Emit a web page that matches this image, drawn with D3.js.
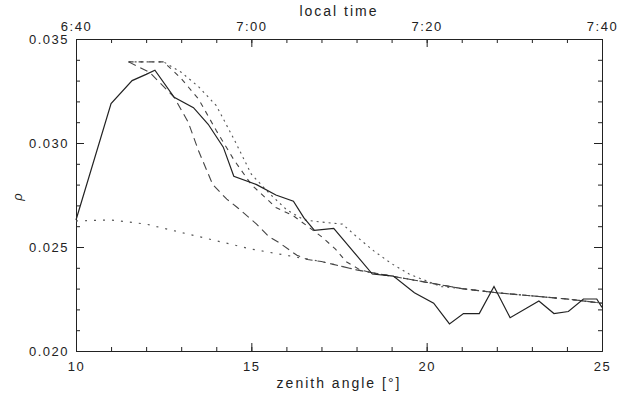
<!DOCTYPE html>
<html>
<head>
<meta charset="utf-8">
<script src="https://cdn.jsdelivr.net/npm/d3@7"></script>
<style>
  body { margin: 0; background: #fff; }
  text { font-family: "Liberation Sans", "DejaVu Sans", sans-serif; fill: #222; }
</style>
</head>
<body>
<div id="chart"></div>
<script>
// zenith angle [deg] / rho readings
var measZen = [10, 11.0, 11.6, 12.0, 12.25, 12.8, 13.35, 13.77, 14.2, 14.5, 15.15, 15.7, 16.2, 16.5, 16.8, 17.35, 18.45, 19.05, 19.65, 20.2, 20.65, 21.05, 21.5, 21.92, 22.38, 23.2, 23.63, 24.04, 24.47, 24.85, 25];
var measRho = [0.0263, 0.0319, 0.0330, 0.0333, 0.0335, 0.0322, 0.0317, 0.0309, 0.0298, 0.0284, 0.0280, 0.0275, 0.0272, 0.0264, 0.0258, 0.0259, 0.0237, 0.0236, 0.0228, 0.0223, 0.0213, 0.0218, 0.0218, 0.0231, 0.0216, 0.0224, 0.0218, 0.0219, 0.0225, 0.0225, 0.0221];

var baseZen = [10, 11, 12, 13, 14, 15, 16, 17, 18, 19, 20, 21, 22, 23, 24, 25];
var baseRho = [0.02625, 0.0263, 0.0261, 0.0257, 0.0253, 0.0249, 0.0246, 0.0243, 0.0239, 0.0236, 0.0233, 0.0230, 0.0228, 0.02265, 0.0225, 0.0223];

var fastZen = [11.5, 12.1, 12.8, 13.2, 13.5, 13.9, 14.3, 14.6, 15.15, 15.5, 15.8, 16.3, 16.6, 17, 18, 19, 20, 21, 22, 23, 24, 25];
var fastRho = [0.0339, 0.0334, 0.0322, 0.0310, 0.0296, 0.0280, 0.0273, 0.0269, 0.0261, 0.0255, 0.0252, 0.0246, 0.0244, 0.0243, 0.0239, 0.0236, 0.0233, 0.0230, 0.0228, 0.02265, 0.0225, 0.0223];

var midZen = [11.5, 12.5, 13.0, 13.5, 14.0, 14.5, 15.0, 15.7, 16.2, 16.6, 17.0, 17.4, 17.7, 18.1, 18.6, 19, 20, 21, 22, 23, 24, 25];
var midRho = [0.0339, 0.0339, 0.0331, 0.0321, 0.0306, 0.0292, 0.0280, 0.0269, 0.0265, 0.0260, 0.0255, 0.0249, 0.0243, 0.0239, 0.0237, 0.0236, 0.0233, 0.0230, 0.0228, 0.02265, 0.0225, 0.0223];

var slowZen = [11.5, 12.5, 13.0, 13.5, 14.0, 14.5, 15.0, 15.5, 16.0, 16.5, 17.0, 17.6, 18.0, 18.5, 19.0, 19.5, 20.4, 21, 22, 23, 24, 25];
var slowRho = [0.0339, 0.0339, 0.0334, 0.0327, 0.0318, 0.0302, 0.0285, 0.0276, 0.0268, 0.0263, 0.0262, 0.0261, 0.0255, 0.0248, 0.0242, 0.0237, 0.0231, 0.0230, 0.0228, 0.02265, 0.0225, 0.0223];

var zenTicks = [10, 15, 20, 25];
var rhoTicks = [0.020, 0.025, 0.030, 0.035];
var timeTicks = [400, 420, 440, 460];   // minutes after midnight
var timeLabels = ["6:40", "7:00", "7:20", "7:40"];

var width = 620, height = 400;
var margin = {top: 39, right: 18, bottom: 49, left: 76};

var svg = d3.select('#chart').append('svg')
    .attr('width', width).attr('height', height);

var x = d3.scaleLinear().domain([10, 25]).range([margin.left, width - margin.right]);
var xt = d3.scaleLinear().domain([400, 460]).range([margin.left, width - margin.right]);
var y = d3.scaleLinear().domain([0.020, 0.035]).range([height - margin.bottom, margin.top]);

var minorZ = d3.range(10, 25.01, 1);
var minorR = d3.range(0.020, 0.0351, 0.001);
var minorT = d3.range(400, 460.1, 4);

function tickAxis(axisFn, scale, ticks, size, fmt) {
  return axisFn(scale).tickValues(ticks).tickSizeInner(size).tickSizeOuter(0).tickPadding(6).tickFormat(fmt);
}

var B = height - margin.bottom, T = margin.top, L = margin.left, R = width - margin.right;

// bottom
svg.append('g').attr('transform', 'translate(0,' + B + ')')
  .call(tickAxis(d3.axisBottom, x, minorZ, -4, ''));
svg.append('g').attr('transform', 'translate(0,' + B + ')')
  .call(tickAxis(d3.axisBottom, x, zenTicks, -8, d3.format('d')).tickPadding(11));
// top
svg.append('g').attr('transform', 'translate(0,' + T + ')')
  .call(tickAxis(d3.axisTop, xt, minorT, -4, ''));
svg.append('g').attr('transform', 'translate(0,' + T + ')')
  .call(tickAxis(d3.axisTop, xt, timeTicks, -8, function(d, i) { return timeLabels[i]; }).tickPadding(8));
// left
svg.append('g').attr('transform', 'translate(' + L + ',0)')
  .call(tickAxis(d3.axisLeft, y, minorR, -4, ''));
svg.append('g').attr('transform', 'translate(' + L + ',0)')
  .call(tickAxis(d3.axisLeft, y, rhoTicks, -8, d3.format('.3f')).tickPadding(7));
// right
svg.append('g').attr('transform', 'translate(' + R + ',0)')
  .call(tickAxis(d3.axisRight, y, minorR, -4, ''));
svg.append('g').attr('transform', 'translate(' + R + ',0)')
  .call(tickAxis(d3.axisRight, y, rhoTicks, -8, ''));

svg.selectAll('.domain').attr('stroke', '#222');
svg.selectAll('.tick line').attr('stroke', '#222');
svg.selectAll('.tick text').attr('font-size', 13).attr('letter-spacing', 1.5).attr('fill', '#222');

svg.append('text').attr('x', (L + R) / 2).attr('y', 16).attr('text-anchor', 'middle')
  .attr('font-size', 14).attr('letter-spacing', 2).text('local time');
svg.append('text').attr('x', (L + R) / 2).attr('y', 388).attr('text-anchor', 'middle')
  .attr('font-size', 14).attr('letter-spacing', 2).text('zenith angle [°]');
svg.append('text').attr('transform', 'translate(22,197) rotate(-90)').attr('text-anchor', 'middle')
  .attr('font-size', 13).attr('font-style', 'italic').text('ρ');

var line = d3.line().x(function(d) { return x(d[0]); }).y(function(d) { return y(d[1]); });

function draw(zs, rs, dash, col, w) {
  svg.append('path').datum(d3.zip(zs, rs)).attr('d', line)
    .attr('fill', 'none').attr('stroke', col).attr('stroke-width', w)
    .attr('stroke-dasharray', dash);
}

draw(baseZen, baseRho, '2,7', '#555', 1.2);
draw(slowZen, slowRho, '2,4', '#555', 1.1);
draw(midZen, midRho, '5,5', '#444', 1.1);
draw(fastZen, fastRho, '8,5', '#444', 1.1);
draw(measZen, measRho, null, '#222', 1.2);
</script>
</body>
</html>
